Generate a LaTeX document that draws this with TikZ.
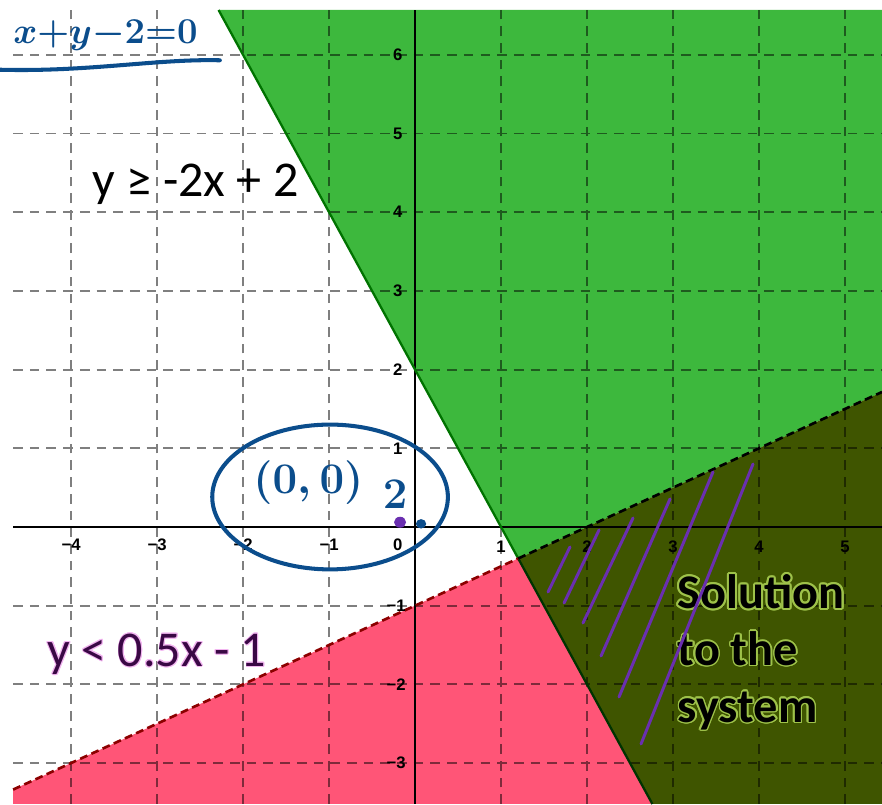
\documentclass[tikz,border=0pt]{standalone}
\usepackage{fontspec}
\setmainfont{Carlito}
\newfontfamily\tickfont{Liberation Sans}
\usepackage{contour}
\usepackage{tikz}
\usetikzlibrary{calc}

\definecolor{regiongreen}{HTML}{3DB83D}
\definecolor{regionpink}{HTML}{FF5577}
\definecolor{regionolive}{HTML}{3F5500}
\definecolor{penblue}{HTML}{0B4D8C}
\definecolor{penpurple}{HTML}{6A2FB0}
\definecolor{labelpurple}{HTML}{3A0845}
\definecolor{glowgreen}{HTML}{9EC24A}
\definecolor{glowpink}{HTML}{F2B6F0}

\begin{document}
\begin{tikzpicture}[x=1.72cm, y=1.574cm,
    grid line/.style={black, opacity=0.5, line width=1.1pt, dash pattern=on 5.5pt off 4pt},
    axis line/.style={black, line width=1.5pt},
    solid edge/.style={line width=1.3pt, draw=green!45!black},
    dash edge/.style={line width=1.5pt, dash pattern=on 4.5pt off 2.5pt},
    tick/.style={font=\tickfont\bfseries\fontsize{9.5}{11}\selectfont, inner sep=0pt},
    ineq/.style={font=\fontsize{28.5}{34}\selectfont, inner sep=0pt},
    solution/.style={font=\fontsize{27.5}{32.3}\selectfont\bfseries, align=left, anchor=west, inner sep=0pt},
    hand/.style={draw=penblue, line width=2.3pt, line cap=round, line join=round},
    hatch/.style={draw=penpurple, line width=1.7pt, line cap=round}
]

% Frame of the picture
\useasboundingbox (-4.826,-3.521) rectangle (5.430,6.696);

% Plot window and crossing points
\coordinate (sw) at (-4.674,-3.52);
\coordinate (ne) at (5.43,6.569);
\coordinate (se) at (5.43,-3.52);
\coordinate (solidtop) at (-2.2845,6.569);
\coordinate (solidbot) at (2.76,-3.52);
\coordinate (dashleft) at (-4.674,-3.337);
\coordinate (dashright) at (5.43,1.715);
\coordinate (meet) at (1.2,-0.4);

% Shaded regions
\fill[regiongreen] (solidtop) -- (ne) -- (dashright) -- (meet) -- cycle;
\fill[regionolive] (meet) -- (dashright) -- (se) -- (solidbot) -- cycle;
\fill[regionpink] (dashleft) -- (meet) -- (solidbot) -- (sw) -- cycle;

% Grid and axes
\draw[grid line, step=1] (sw) grid (ne);
\draw[axis line] (-4.674,0) -- (5.43,0);
\draw[axis line] (0,-3.52) -- (0,6.569);

% Boundary lines
\draw[solid edge] (solidtop) -- (meet);
\draw[solid edge, draw=green!20!black] (meet) -- (solidbot);
\draw[dash edge, draw=red!55!black] (dashleft) -- (meet);
\draw[dash edge, draw=black] (meet) -- (dashright);

% Tick labels
\node[tick] (xm4) at (-4,-0.23) {−4};
\node[tick] (xm3) at (-3,-0.23) {−3};
\node[tick] (xm2) at (-2,-0.23) {−2};
\node[tick] (xm1) at (-1,-0.23) {−1};
\node[tick] (x0) at (-0.2,-0.23) {0};
\node[tick] (x1) at (1,-0.25) {1};
\node[tick] (x2) at (2,-0.25) {2};
\node[tick] (x3) at (3,-0.25) {3};
\node[tick] (x4) at (4,-0.25) {4};
\node[tick] (x5) at (5,-0.25) {5};
\node[tick] (y6) at (-0.2,6) {6};
\node[tick] (y5) at (-0.2,5) {5};
\node[tick] (y4) at (-0.2,4) {4};
\node[tick] (y3) at (-0.2,3) {3};
\node[tick] (y2) at (-0.2,2) {2};
\node[tick] (y1) at (-0.2,1) {1};
\node[tick] (ym1) at (-0.22,-1) {−1};
\node[tick] (ym2) at (-0.22,-2) {−2};
\node[tick] (ym3) at (-0.22,-3) {−3};

% Inequality labels
\node[ineq] (greenlabel) at (-2.55,4.36) {y ≥ -2x + 2};
\node[ineq, text=labelpurple] (pinklabel) at (-3.0,-1.62) {\contourlength{0.5pt}\contour{glowpink}{y < 0.5x - 1}};
\node[solution] (sollabel) at (3.05,-1.6) {\contourlength{1.1pt}\contour{glowgreen}{Solution}\\
  \contour{glowgreen}{to the}\\ \contour{glowgreen}{system}};

% Handwritten notes
\node[text=penblue, font=\fontsize{22.5}{27}\selectfont\boldmath, inner sep=0pt] (eqnote) at (-3.6,6.25) {$x{+}y{-}2{=}0$};
\draw[hand] (-4.826,5.81) .. controls (-3.8,5.78) and (-3.0,5.95) .. (-2.27,5.93);
\node[text=penblue, font=\fontsize{41}{48}\selectfont\boldmath, inner sep=0pt] (pointnote) at (-1.24,0.57) {$(0,0)$};
\node[text=penblue, font=\fontsize{26}{30}\selectfont\boldmath, inner sep=0pt] (twonote) at (-0.23,0.42) {$2$};
\draw[hand] (-0.988,0.381) ellipse [x radius=1.37, y radius=0.92];
\fill[penpurple] (-0.174,0.06) circle [radius=0.07];
\fill[penblue] (0.07,0.04) circle [radius=0.06];

% Hatching of the solution set
\draw[hatch] (1.547,-0.826) -- (1.802,-0.254);
\draw[hatch] (1.733,-0.966) -- (2.140,-0.038);
\draw[hatch] (1.953,-1.220) -- (2.535,0.114);
\draw[hatch] (2.163,-1.639) -- (2.965,0.356);
\draw[hatch] (2.372,-2.160) -- (3.465,0.699);
\draw[hatch] (2.628,-2.757) -- (3.930,0.800);

\end{tikzpicture}
\end{document}
